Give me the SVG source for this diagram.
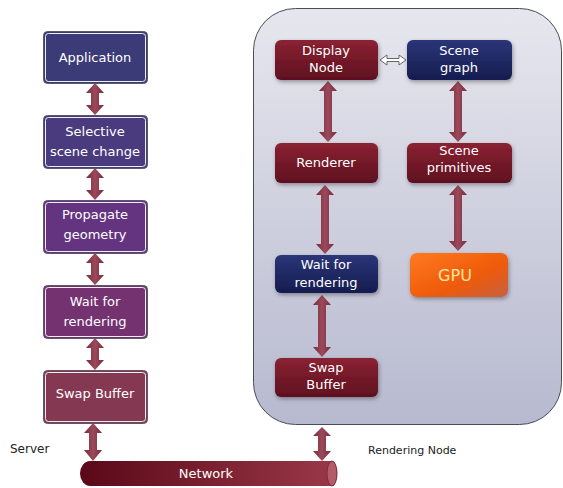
<svg xmlns="http://www.w3.org/2000/svg" width="563" height="488" viewBox="0 0 563 488">
<defs>
<linearGradient id="panel" x1="0" y1="0" x2="0" y2="1"><stop offset="0" stop-color="#e6e7ee"/><stop offset="1" stop-color="#b7b9cf"/></linearGradient>
<linearGradient id="red" x1="0" y1="0" x2="0" y2="1"><stop offset="0" stop-color="#8a2232"/><stop offset="1" stop-color="#5e1020"/></linearGradient>
<linearGradient id="navy" x1="0" y1="0" x2="0" y2="1"><stop offset="0" stop-color="#2a3578"/><stop offset="1" stop-color="#161d4f"/></linearGradient>
<linearGradient id="gpu" x1="0" y1="0" x2="1" y2="1"><stop offset="0" stop-color="#ff7a20"/><stop offset="0.6" stop-color="#ee5a0a"/><stop offset="1" stop-color="#c86040"/></linearGradient>
<linearGradient id="net" x1="0" y1="0" x2="1" y2="0"><stop offset="0" stop-color="#5a0818"/><stop offset="1" stop-color="#9a3848"/></linearGradient>
<linearGradient id="arr" x1="0" y1="0" x2="1" y2="0"><stop offset="0" stop-color="#7a2a3c"/><stop offset="0.5" stop-color="#9a4a5a"/><stop offset="1" stop-color="#7a2a3c"/></linearGradient>
<filter id="sh" x="-10%" y="-10%" width="130%" height="140%"><feDropShadow dx="1" dy="2" stdDeviation="2" flood-color="#000" flood-opacity="0.35"/></filter>
</defs>
<style>
.t{font-family:"DejaVu Sans",sans-serif;font-size:13px;fill:#fff;text-anchor:middle}
.lb{stroke:#5a5a66;stroke-width:1}
.in{fill:none;stroke:#f0eef4;stroke-width:1}
.a{fill:url(#arr)}
.lbl{font-family:"DejaVu Sans",sans-serif;font-size:11px;fill:#222}
</style>
<rect id="panel-bg" x="253.500" y="8.500" width="308" height="416" rx="42" fill="url(#panel)" stroke="#4a4a5a" stroke-width="1"/>

<g id="connectors">
<path class="a" d="M95,83 L104,93 L99,93 L99,105 L104,105 L95,115 L86,105 L91,105 L91,93 L86,93 Z"/>
<path class="a" d="M95,168 L104,178 L99,178 L99,190 L104,190 L95,200 L86,190 L91,190 L91,178 L86,178 Z"/>
<path class="a" d="M95,253 L104,263 L99,263 L99,275 L104,275 L95,285 L86,275 L91,275 L91,263 L86,263 Z"/>
<path class="a" d="M95,338 L104,348 L99,348 L99,360 L104,360 L95,370 L86,360 L91,360 L91,348 L86,348 Z"/>
<path class="a" d="M93,423 L102,433 L97,433 L97,450 L102,450 L93,461 L84,450 L89,450 L89,433 L84,433 Z"/>
<path class="a" d="M328,81 L337,91 L332,91 L332,132 L337,132 L328,142 L319,132 L324,132 L324,91 L319,91 Z"/>
<path class="a" d="M458,81 L467,91 L462,91 L462,132 L467,132 L458,142 L449,132 L454,132 L454,91 L449,91 Z"/>
<path class="a" d="M325,185 L334,195 L329,195 L329,244 L334,244 L325,254 L316,244 L321,244 L321,195 L316,195 Z"/>
<path class="a" d="M458,185 L467,195 L462,195 L462,241 L467,241 L458,251 L449,241 L454,241 L454,195 L449,195 Z"/>
<path class="a" d="M322,295 L331,305 L326,305 L326,347 L331,347 L322,357 L313,347 L318,347 L318,305 L313,305 Z"/>
<path class="a" d="M322,427 L331,436 L326,436 L326,451 L331,451 L322,461 L313,451 L318,451 L318,436 L313,436 Z"/>
<path d="M380,60 L387,55 L387,58.500 L399,58.500 L399,55 L406,60 L399,65 L399,61.500 L387,61.500 L387,65 Z" fill="#fff" stroke="#666" stroke-width="1"/>
</g>

<g id="app"><rect class="lb" x="43.500" y="31.500" width="104" height="52" rx="4" fill="#3b3b78"/><rect class="in" x="45.500" y="33.500" width="100" height="48" rx="3"/><text class="t" x="95" y="62">Application</text></g>
<g id="selective"><rect class="lb" x="43.500" y="115.500" width="104" height="53" rx="4" fill="#4a3a7e"/><rect class="in" x="45.500" y="117.500" width="100" height="49" rx="3"/><text class="t" x="95" y="136">Selective</text><text class="t" x="95" y="156">scene change</text></g>
<g id="propagate"><rect class="lb" x="43.500" y="200.500" width="104" height="53" rx="4" fill="#643480"/><rect class="in" x="45.500" y="202.500" width="100" height="49" rx="3"/><text class="t" x="95" y="219">Propagate</text><text class="t" x="95" y="239">geometry</text></g>
<g id="wait-left"><rect class="lb" x="43.500" y="285.500" width="104" height="53" rx="4" fill="#743270"/><rect class="in" x="45.500" y="287.500" width="100" height="49" rx="3"/><text class="t" x="95" y="306">Wait for</text><text class="t" x="95" y="326">rendering</text></g>
<g id="swap-left"><rect class="lb" x="43.500" y="370.500" width="104" height="53" rx="4" fill="#853852"/><rect class="in" x="45.500" y="372.500" width="100" height="49" rx="3"/><text class="t" x="95" y="398">Swap Buffer</text></g>

<g id="display"><rect x="275" y="40" width="103" height="40" rx="6" fill="url(#red)" filter="url(#sh)"/><text class="t" x="326" y="55">Display</text><text class="t" x="326" y="72">Node</text></g>
<g id="scenegraph"><rect x="407" y="40" width="105" height="40" rx="6" fill="url(#navy)" filter="url(#sh)"/><text class="t" x="459" y="55">Scene</text><text class="t" x="459" y="72">graph</text></g>
<g id="renderer"><rect x="275" y="143" width="103" height="40" rx="6" fill="url(#red)" filter="url(#sh)"/><text class="t" x="326" y="167">Renderer</text></g>
<g id="primitives"><rect x="407" y="143" width="105" height="40" rx="6" fill="url(#red)" filter="url(#sh)"/><text class="t" x="459" y="155">Scene</text><text class="t" x="459" y="172">primitives</text></g>
<g id="wait-right"><rect x="275" y="255" width="103" height="38" rx="6" fill="url(#navy)" filter="url(#sh)"/><text class="t" x="326" y="269">Wait for</text><text class="t" x="326" y="287">rendering</text></g>
<g id="gpu-node"><rect x="410" y="253" width="98" height="44" rx="7" fill="url(#gpu)" filter="url(#sh)"/><text class="t" x="455" y="281" style="font-size:16px;fill:#ffe6a0">GPU</text></g>
<g id="swap-right"><rect x="275" y="358" width="103" height="39" rx="6" fill="url(#red)" filter="url(#sh)"/><text class="t" x="326" y="372">Swap</text><text class="t" x="326" y="389">Buffer</text></g>

<g id="network"><path d="M90,461 L332,461 A5,12.500 0 0 1 332,486 L90,486 A10,12.500 0 0 1 90,461 Z" fill="url(#net)"/><ellipse cx="332" cy="473.500" rx="5" ry="12.500" fill="#b45a68" stroke="#7a2a3a" stroke-width="1"/><text class="t" x="206" y="478">Network</text></g>

<text class="lbl" x="10" y="453" style="font-size:12px">Server</text>
<text class="lbl" x="368" y="454" style="font-size:11px">Rendering Node</text>
</svg>
